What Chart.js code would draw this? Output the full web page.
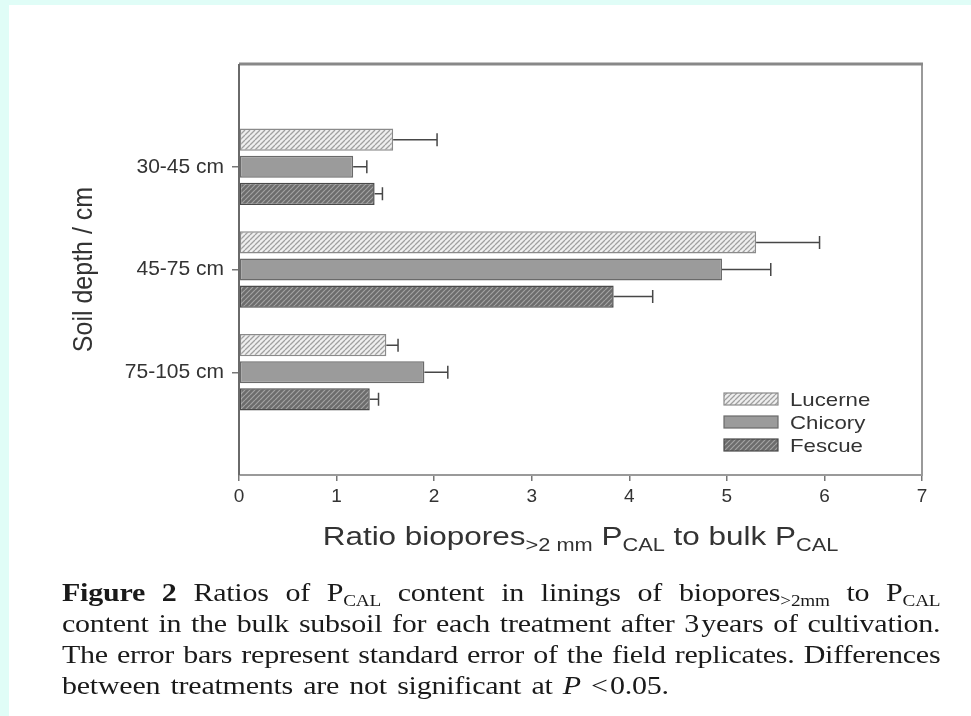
<!DOCTYPE html>
<html>
<head>
<meta charset="utf-8">
<script src="https://cdn.jsdelivr.net/npm/chart.js@4.4.1/dist/chart.umd.min.js"></script>
<style>
  html, body { margin: 0; padding: 0; }
  body { width: 971px; height: 716px; background: #e0fdf7; position: relative; overflow: hidden; }
  #panel { position: absolute; left: 9px; top: 5px; right: 0; bottom: 0; background: #ffffff; }
  #chart { position: absolute; left: 0; top: 0; }
  #caption {
    position: absolute; left: 62px; top: 577px; width: 732px;
    transform: scaleX(1.2); transform-origin: 0 0;
    font-family: "Liberation Serif", "Times New Roman", serif; font-size: 25px; line-height: 31px;
    letter-spacing: -0.2px; color: #1a1a1a;
  }
  #caption .line { display: flex; justify-content: space-between; white-space: nowrap; }
  #caption .line.last { justify-content: flex-start; }
  #caption .line.last span { margin-right: 8.5px; }
  #caption sub { font-size: 16px; line-height: 0; vertical-align: baseline; position: relative; top: 5px; }
</style>
</head>
<body>
<div id="panel"></div>
<canvas id="chart" width="971" height="716"></canvas>
<div id="caption"></div>
<script>
// Soil depth classes and the PCAL ratio (mean ± standard error) per crop
const depths = ['30-45 cm', '45-75 cm', '75-105 cm'];
const lucerne   = [1.58, 5.30, 1.51];
const lucerneSE = [0.45, 0.65, 0.12];
const chicory   = [1.17, 4.95, 1.90];
const chicorySE = [0.14, 0.50, 0.24];
const fescue    = [1.39, 3.84, 1.34];
const fescueSE  = [0.08, 0.40, 0.09];
const seriesNames = ['Lucerne', 'Chicory', 'Fescue'];
const xMin = 0, xMax = 7, xStep = 1;

const captionLines = [
  '<b>Figure</b> <b>2</b> Ratios of P<sub>CAL</sub> content in linings of biopores<sub>&gt;2mm</sub> to P<sub>CAL</sub>',
  'content in the bulk subsoil for each treatment after 3&#8202;years of cultivation.',
  'The error bars represent standard error of the field replicates. Differences',
  'between treatments are not significant at <i>P</i> &lt;&#8202;0.05.'
];

// caption, one flex row per line so each row spans the full width
const cap = document.getElementById('caption');
captionLines.forEach((txt, i) => {
  const row = document.createElement('div');
  row.className = 'line' + (i === captionLines.length - 1 ? ' last' : '');
  txt.split(' ').forEach(w => {
    const s = document.createElement('span');
    s.innerHTML = w;
    row.appendChild(s);
  });
  cap.appendChild(row);
});

const canvas = document.getElementById('chart');
const ctx = canvas.getContext('2d');

function hatch(bg, fg, size, lw) {
  const c = document.createElement('canvas');
  c.width = size; c.height = size;
  const g = c.getContext('2d');
  g.fillStyle = bg; g.fillRect(0, 0, size, size);
  g.strokeStyle = fg; g.lineWidth = lw;
  g.beginPath();
  for (const k of [-size, 0, size]) { g.moveTo(k, size); g.lineTo(k + size, 0); }
  g.stroke();
  return ctx.createPattern(c, 'repeat');
}

const fills = [hatch('#efefef', '#a0a0a0', 5, 1.3), '#9b9b9b', hatch('#6c6c6c', '#a3a3a3', 5, 1.2)];
const edges = ['#8a8a8a', '#6a6a6a', '#4a4a4a'];
const values = [lucerne, chicory, fescue];
const errors = [lucerneSE, chicorySE, fescueSE];

const SANS = '"Liberation Sans", Arial, sans-serif';
const TEXT = '#333333';

// mean + SE whiskers to the right of each bar
const errorBars = {
  id: 'errorBars',
  afterDatasetsDraw(chart) {
    const xs = chart.scales.x;
    const c = chart.ctx;
    c.save();
    c.strokeStyle = '#474747';
    c.lineWidth = 1.5;
    chart.data.datasets.forEach((ds, di) => {
      const meta = chart.getDatasetMeta(di);
      meta.data.forEach((bar, j) => {
        const v = values[di][j], e = errors[di][j];
        const x0 = xs.getPixelForValue(v), x1 = xs.getPixelForValue(v + e);
        c.beginPath();
        c.moveTo(x0, bar.y); c.lineTo(x1, bar.y);
        c.moveTo(x1, bar.y - 6.5); c.lineTo(x1, bar.y + 6.5);
        c.stroke();
      });
    });
    c.restore();
  }
};

// frame, axis titles and legend
const decorations = {
  id: 'decorations',
  afterDraw(chart) {
    const c = chart.ctx, a = chart.chartArea;
    c.save();
    c.strokeStyle = '#9a9a9a'; c.lineWidth = 2;
    c.beginPath();
    c.moveTo(a.left, a.bottom); c.lineTo(a.right, a.bottom); c.lineTo(a.right, a.top); c.stroke();
    c.strokeStyle = '#888888'; c.lineWidth = 3;
    c.beginPath(); c.moveTo(a.left, a.top); c.lineTo(a.right + 1, a.top); c.stroke();
    c.strokeStyle = '#6a6a6a'; c.lineWidth = 2;
    c.beginPath(); c.moveTo(a.left, a.top); c.lineTo(a.left, a.bottom); c.stroke();

    // x title with subscripts
    const parts = [
      ['Ratio biopores', 26, 0], ['>2 mm', 18, 6], [' P', 26, 0], ['CAL', 18, 6],
      [' to bulk P', 26, 0], ['CAL', 18, 6]
    ];
    const sx = 1.21;
    let w = 0;
    parts.forEach(p => { c.font = p[1] + 'px ' + SANS; w += c.measureText(p[0]).width; });
    const cx = (a.left + a.right) / 2;
    c.translate(cx - w * sx / 2, 545);
    c.scale(sx, 1);
    c.fillStyle = TEXT; c.textBaseline = 'alphabetic'; c.textAlign = 'left';
    let x = 0;
    parts.forEach(p => {
      c.font = p[1] + 'px ' + SANS;
      c.fillText(p[0], x, p[2]);
      x += c.measureText(p[0]).width;
    });
    c.restore();

    // y title
    c.save();
    c.translate(84, (a.top + a.bottom) / 2);
    c.rotate(-Math.PI / 2);
    c.scale(1, 1.12);
    c.font = '25px ' + SANS;
    c.fillStyle = TEXT; c.textAlign = 'center'; c.textBaseline = 'middle';
    c.fillText('Soil depth / cm', 0, 0);
    c.restore();

    // legend inside the plot
    c.save();
    seriesNames.forEach((name, i) => {
      const y = 399 + i * 23;
      c.fillStyle = fills[i];
      c.fillRect(724, y - 6, 54, 12);
      c.strokeStyle = edges[i]; c.lineWidth = 1.2;
      c.strokeRect(724, y - 6, 54, 12);
      c.save();
      c.translate(790, y + 2);
      c.scale(1.17, 1);
      c.font = '19px ' + SANS; c.fillStyle = TEXT; c.textBaseline = 'middle';
      c.fillText(name, 0, 0);
      c.restore();
    });
    c.restore();
  }
};

new Chart(ctx, {
  type: 'bar',
  data: {
    datasets: seriesNames.map((name, i) => ({
      label: name,
      data: values[i].map((v, j) => ({ x: v, y: j + 1 })),
      backgroundColor: fills[i],
      borderColor: edges[i],
      borderWidth: 1.5,
      borderSkipped: false,
      categoryPercentage: 0.79,
      barPercentage: 0.82
    }))
  },
  options: {
    indexAxis: 'y',
    responsive: false,
    animation: false,
    layout: { padding: { top: 64, right: 49, bottom: 0, left: 0 } },
    plugins: { legend: { display: false }, tooltip: { enabled: false } },
    scales: {
      x: {
        type: 'linear', min: xMin, max: xMax,
        afterFit(s) { s.height = 241; },
        ticks: { stepSize: xStep, font: { family: SANS, size: 19 }, color: TEXT, padding: 4 },
        grid: { drawOnChartArea: false, drawTicks: true, tickLength: 6, color: '#777', lineWidth: 1.5 },
        border: { display: false }
      },
      y: {
        type: 'linear', min: 0, max: 4, reverse: true, offset: false,
        afterFit(s) { s.width = 239; },
        afterBuildTicks(s) { s.ticks = depths.map((_, i) => ({ value: i + 1 })); },
        ticks: {
          callback: v => depths[v - 1] || '',
          font: { family: SANS, size: 21 }, color: TEXT, padding: 8
        },
        grid: { offset: false, drawOnChartArea: false, drawTicks: true, tickLength: 7, color: '#777', lineWidth: 1.5 },
        border: { display: false }
      }
    }
  },
  plugins: [errorBars, decorations]
});
</script>
</body>
</html>
